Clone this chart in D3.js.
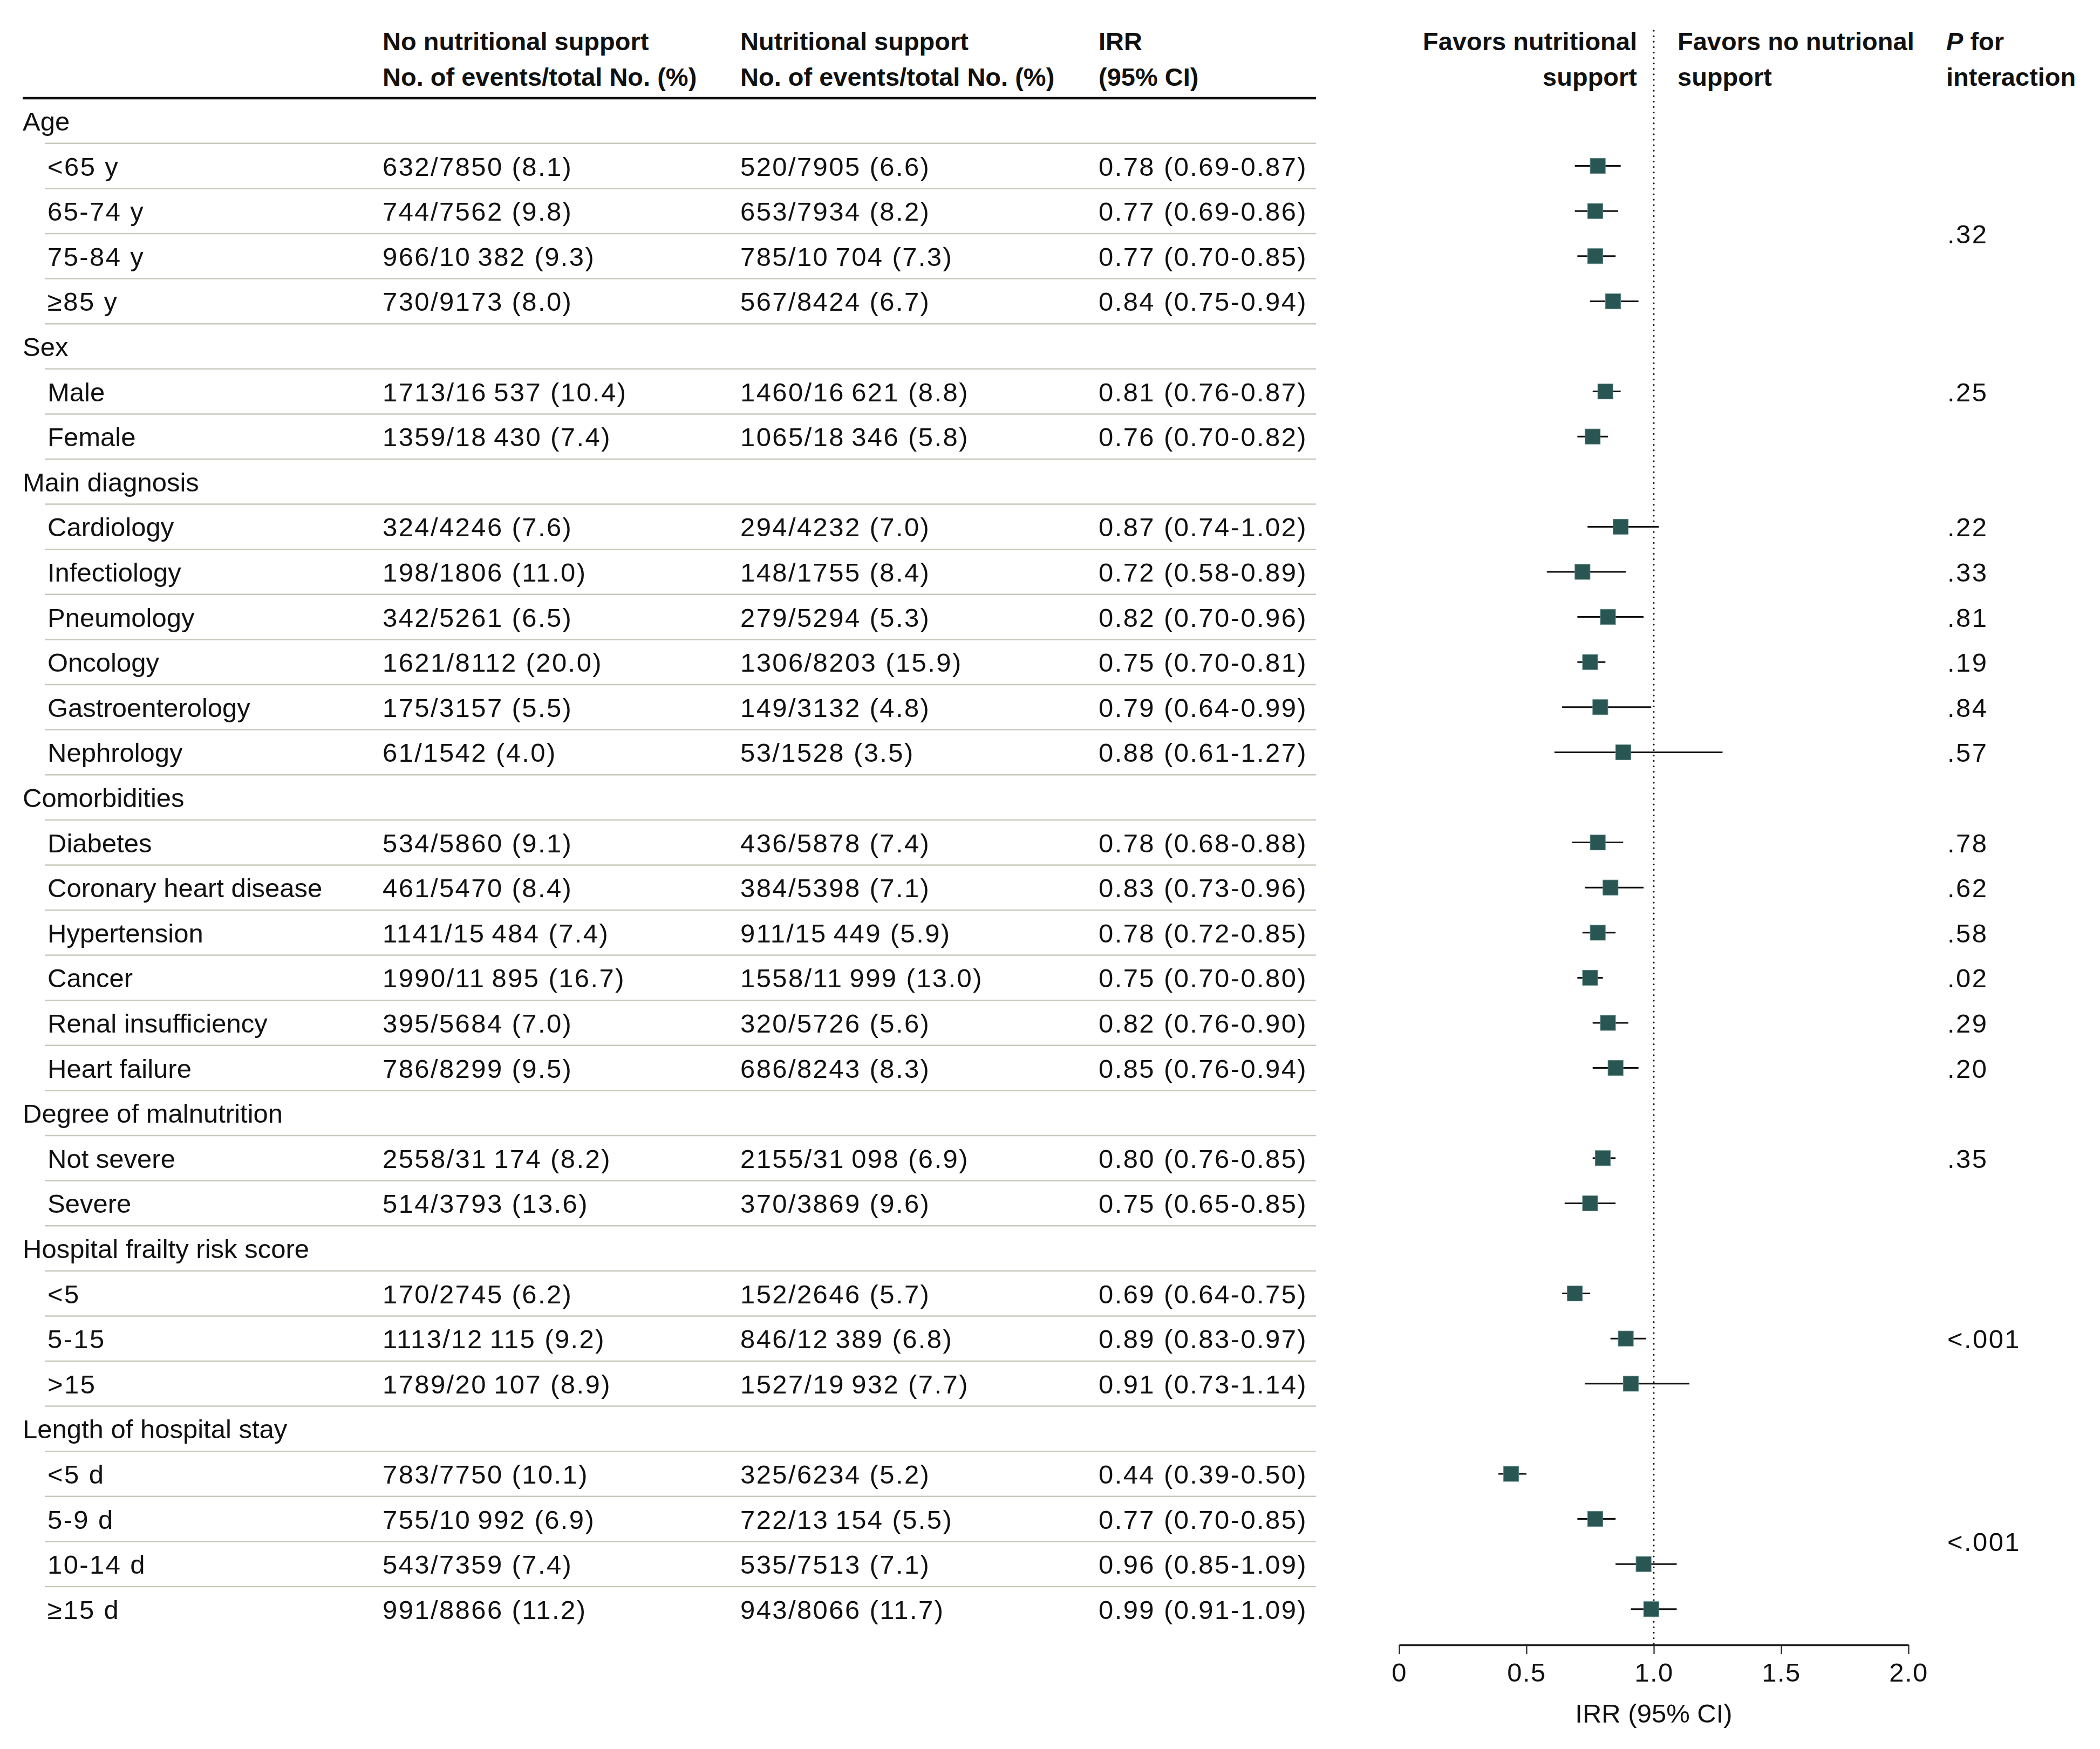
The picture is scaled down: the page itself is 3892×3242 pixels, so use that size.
<!DOCTYPE html>
<html>
<head>
<meta charset="utf-8">
<script src="https://cdn.jsdelivr.net/npm/d3@7"></script>
<style>
  html, body { margin: 0; padding: 0; background: #ffffff; }
  svg { display: block; }
  text { font-family: "Liberation Sans", Arial, sans-serif; fill: #111; }
</style>
</head>
<body>
<script>
// ---------------- DATA ----------------
const groupNames = ["Age", "Sex", "Main diagnosis", "Comorbidities",
  "Degree of malnutrition", "Hospital frailty risk score", "Length of hospital stay"];

const subgroups = ["<65 y", "65-74 y", "75-84 y", "≥85 y",
  "Male", "Female",
  "Cardiology", "Infectiology", "Pneumology", "Oncology", "Gastroenterology", "Nephrology",
  "Diabetes", "Coronary heart disease", "Hypertension", "Cancer", "Renal insufficiency", "Heart failure",
  "Not severe", "Severe",
  "<5", "5-15", ">15",
  "<5 d", "5-9 d", "10-14 d", "≥15 d"];

const subgroupGroup = [0,0,0,0, 1,1, 2,2,2,2,2,2, 3,3,3,3,3,3, 4,4, 5,5,5, 6,6,6,6];

const noSupportEvents = [632, 744, 966, 730, 1713, 1359, 324, 198, 342, 1621, 175, 61,
  534, 461, 1141, 1990, 395, 786, 2558, 514, 170, 1113, 1789, 783, 755, 543, 991];
const noSupportTotal = [7850, 7562, 10382, 9173, 16537, 18430, 4246, 1806, 5261, 8112, 3157, 1542,
  5860, 5470, 15484, 11895, 5684, 8299, 31174, 3793, 2745, 12115, 20107, 7750, 10992, 7359, 8866];
const noSupportPct = [8.1, 9.8, 9.3, 8.0, 10.4, 7.4, 7.6, 11.0, 6.5, 20.0, 5.5, 4.0,
  9.1, 8.4, 7.4, 16.7, 7.0, 9.5, 8.2, 13.6, 6.2, 9.2, 8.9, 10.1, 6.9, 7.4, 11.2];

const supportEvents = [520, 653, 785, 567, 1460, 1065, 294, 148, 279, 1306, 149, 53,
  436, 384, 911, 1558, 320, 686, 2155, 370, 152, 846, 1527, 325, 722, 535, 943];
const supportTotal = [7905, 7934, 10704, 8424, 16621, 18346, 4232, 1755, 5294, 8203, 3132, 1528,
  5878, 5398, 15449, 11999, 5726, 8243, 31098, 3869, 2646, 12389, 19932, 6234, 13154, 7513, 8066];
const supportPct = [6.6, 8.2, 7.3, 6.7, 8.8, 5.8, 7.0, 8.4, 5.3, 15.9, 4.8, 3.5,
  7.4, 7.1, 5.9, 13.0, 5.6, 8.3, 6.9, 9.6, 5.7, 6.8, 7.7, 5.2, 5.5, 7.1, 11.7];

const irr     = [0.78, 0.77, 0.77, 0.84, 0.81, 0.76, 0.87, 0.72, 0.82, 0.75, 0.79, 0.88,
  0.78, 0.83, 0.78, 0.75, 0.82, 0.85, 0.80, 0.75, 0.69, 0.89, 0.91, 0.44, 0.77, 0.96, 0.99];
const irrLow  = [0.69, 0.69, 0.70, 0.75, 0.76, 0.70, 0.74, 0.58, 0.70, 0.70, 0.64, 0.61,
  0.68, 0.73, 0.72, 0.70, 0.76, 0.76, 0.76, 0.65, 0.64, 0.83, 0.73, 0.39, 0.70, 0.85, 0.91];
const irrHigh = [0.87, 0.86, 0.85, 0.94, 0.87, 0.82, 1.02, 0.89, 0.96, 0.81, 0.99, 1.27,
  0.88, 0.96, 0.85, 0.80, 0.90, 0.94, 0.85, 0.85, 0.75, 0.97, 1.14, 0.50, 0.85, 1.09, 1.09];

const pValueLabels = [".32", ".25", ".22", ".33", ".81", ".19", ".84", ".57",
  ".78", ".62", ".58", ".02", ".29", ".20", ".35", "<.001", "<.001"];
const pValueFirst = ["<65 y", "Male", "Cardiology", "Infectiology", "Pneumology", "Oncology", "Gastroenterology", "Nephrology",
  "Diabetes", "Coronary heart disease", "Hypertension", "Cancer", "Renal insufficiency", "Heart failure",
  "Not severe", "<5", "<5 d"];
const pValueLast = ["≥85 y", "Male", "Cardiology", "Infectiology", "Pneumology", "Oncology", "Gastroenterology", "Nephrology",
  "Diabetes", "Coronary heart disease", "Hypertension", "Cancer", "Renal insufficiency", "Heart failure",
  "Not severe", ">15", "≥15 d"];

const xTicks = [0, 0.5, 1, 1.5, 2];
const xTickLabels = ["0", "0.5", "1.0", "1.5", "2.0"];

// ---------------- LAYOUT ----------------
const W = 3892, H = 3242;
const FS = 49;           // body font size
const HFS = 47;          // header font size
const NUM_LS = 2.4;      // extra letter spacing for numeric text

// Build row list (group headers followed by their subgroups)
const rows = [];
groupNames.forEach((g, gi) => {
  rows.push({ key: "g" + gi, label: g, type: "group" });
  subgroups.forEach((s, si) => {
    if (subgroupGroup[si] === gi) rows.push({ key: s, label: s, type: "sub", i: si });
  });
});

const y = d3.scalePoint().domain(rows.map(r => r.key)).range([224, 224 + 83.6 * (rows.length - 1)]);
const x = d3.scaleLinear().domain([0, 2]).range([2593, 3537]);

const fmtCount = n => {
  const s = String(n);
  return n >= 10000 ? s.slice(0, -3) + "\u2009" + s.slice(-3) : s;
};
const fmtCell = (e, t, p) => `${fmtCount(e)}/${fmtCount(t)} (${p.toFixed(1)})`;

const svg = d3.select("body").append("svg").attr("width", W).attr("height", H);
svg.append("rect").attr("width", W).attr("height", H).attr("fill", "#fff");

const colLabel = 42, colIndent = 88, colNo = 709, colYes = 1372, colIRR = 2036;
const tableRight = 2439;
const baseOff = 18;   // baseline offset from row center

// ---------------- HEADER ----------------
const header = svg.append("g").attr("font-size", HFS).attr("font-weight", 700);
const hdr1 = 93, hdr2 = 159;
[[colNo, "No nutritional support", "No. of events/total No. (%)"],
 [colYes, "Nutritional support", "No. of events/total No. (%)"],
 [colIRR, "IRR", "(95% CI)"]].forEach(([cx, a, b]) => {
  header.append("text").attr("x", cx).attr("y", hdr1).text(a);
  header.append("text").attr("x", cx).attr("y", hdr2).text(b);
});
header.append("text").attr("x", 3034).attr("y", hdr1).attr("text-anchor", "end").text("Favors nutritional");
header.append("text").attr("x", 3034).attr("y", hdr2).attr("text-anchor", "end").text("support");
header.append("text").attr("x", 3109).attr("y", hdr1).text("Favors no nutrional");
header.append("text").attr("x", 3109).attr("y", hdr2).text("support");
const pf = header.append("text").attr("x", 3607).attr("y", hdr1);
pf.append("tspan").attr("font-style", "italic").text("P");
pf.append("tspan").text(" for");
header.append("text").attr("x", 3607).attr("y", hdr2).text("interaction");

svg.append("line").attr("x1", colLabel).attr("x2", tableRight).attr("y1", 182).attr("y2", 182)
  .attr("stroke", "#111").attr("stroke-width", 4.5);

// ---------------- SEPARATORS ----------------
const step = y.step();
svg.append("g").selectAll("line").data(rows.slice(0, -1)).join("line")
  .attr("x1", 83).attr("x2", tableRight)
  .attr("y1", d => y(d.key) + step / 2).attr("y2", d => y(d.key) + step / 2)
  .attr("stroke", "#c6cabb").attr("stroke-width", 2.5);

// ---------------- TABLE TEXT ----------------
const body = svg.append("g").attr("font-size", FS);
const rowG = body.selectAll("g").data(rows).join("g")
  .attr("transform", d => `translate(0,${y(d.key) + baseOff})`);
rowG.append("text").attr("x", d => d.type === "group" ? colLabel : colIndent)
  .attr("letter-spacing", d => /^[<>≥\d]/.test(d.label) ? NUM_LS : 0)
  .text(d => d.label);
const subG = rowG.filter(d => d.type === "sub");
subG.append("text").attr("x", colNo).attr("letter-spacing", NUM_LS)
  .text(d => fmtCell(noSupportEvents[d.i], noSupportTotal[d.i], noSupportPct[d.i]));
subG.append("text").attr("x", colYes).attr("letter-spacing", NUM_LS)
  .text(d => fmtCell(supportEvents[d.i], supportTotal[d.i], supportPct[d.i]));
subG.append("text").attr("x", colIRR).attr("letter-spacing", NUM_LS)
  .text(d => `${irr[d.i].toFixed(2)} (${irrLow[d.i].toFixed(2)}-${irrHigh[d.i].toFixed(2)})`);

// ---------------- FOREST PLOT ----------------
const axisY = 3049;
svg.append("line").attr("x1", x(1)).attr("x2", x(1)).attr("y1", 57).attr("y2", axisY)
  .attr("stroke", "#111").attr("stroke-width", 3.2)
  .attr("stroke-dasharray", "0.1,10").attr("stroke-linecap", "round");

const plot = svg.append("g");
const subRows = rows.filter(r => r.type === "sub");
plot.selectAll("line.ci").data(subRows).join("line").attr("class", "ci")
  .attr("x1", d => x(irrLow[d.i])).attr("x2", d => x(irrHigh[d.i]))
  .attr("y1", d => y(d.key)).attr("y2", d => y(d.key))
  .attr("stroke", "#111").attr("stroke-width", 3);
const MS = 28;
plot.selectAll("rect.pt").data(subRows).join("rect").attr("class", "pt")
  .attr("x", d => x(irr[d.i]) - MS / 2).attr("y", d => y(d.key) - MS / 2)
  .attr("width", MS).attr("height", MS)
  .attr("fill", "#295553").attr("stroke", "#5b8583").attr("stroke-width", 1);

// Axis
const axis = d3.axisBottom(x).tickValues(xTicks).tickFormat((d, i) => xTickLabels[i])
  .tickSizeInner(17).tickSizeOuter(0).tickPadding(16);
const ax = svg.append("g").attr("transform", `translate(0,${axisY})`).call(axis);
ax.select(".domain").attr("stroke", "#222").attr("stroke-width", 3.5);
ax.selectAll(".tick line").attr("stroke", "#222").attr("stroke-width", 2.2);
ax.selectAll(".tick text").attr("font-size", FS).attr("font-family", "Liberation Sans, Arial, sans-serif")
  .attr("fill", "#111").attr("letter-spacing", 1.5);
svg.append("text").attr("x", x(1)).attr("y", 3193).attr("text-anchor", "middle")
  .attr("font-size", FS).text("IRR (95% CI)");

// ---------------- P VALUES ----------------
svg.append("g").attr("font-size", FS).attr("letter-spacing", NUM_LS)
  .selectAll("text").data(pValueLabels).join("text")
  .attr("x", 3609)
  .attr("y", (d, i) => (y(pValueFirst[i]) + y(pValueLast[i])) / 2 + baseOff)
  .text(d => d);
</script>
</body>
</html>
